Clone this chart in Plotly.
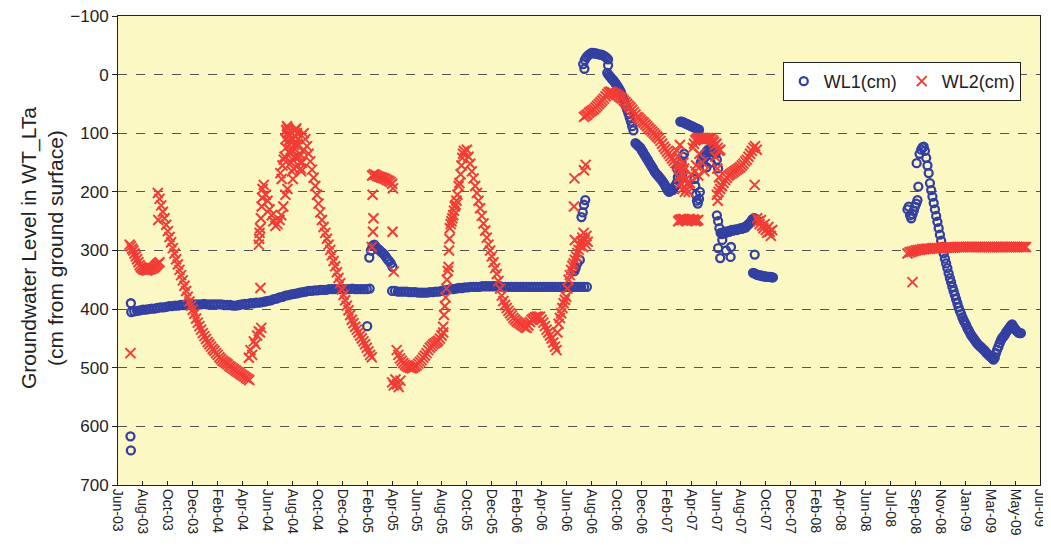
import datetime as dt
import plotly.graph_objects as go

# ---------------- DATA ----------------
# Regularly sampled stretches: (start date, step in days, values in cm)
wl1_seg_2003 = ("2003-07-30", 7, [405, 404, 403, 402, 401, 401, 400, 399, 399, 398, 397, 397, 396, 395,
                                  395, 394, 394, 393, 393, 393, 392, 392, 392, 392, 392, 391, 392,
                                  392, 392, 392, 392, 392, 393, 393, 393, 394, 394, 393, 392, 391,
                                  391, 390, 390, 389, 389, 388, 387, 386, 385, 383, 382, 380, 379,
                                  377, 376, 375, 374, 373, 372, 371, 370, 369, 369, 368, 368, 367,
                                  367, 367, 366, 366, 366, 366, 366, 366, 366, 366, 365, 366, 366,
                                  366, 366, 366, 365])
wl1_seg_2005a = ("2005-02-22", 4, [312, 300, 292, 290, 294, 297, 299, 302, 304, 307, 311, 315, 318, 322, 328])
wl1_seg_2005b = ("2005-04-18", 7, [369, 369, 370, 370, 370, 370, 371, 371, 371, 372, 372, 372, 372, 371, 371,
                                   370, 370, 369, 368, 367, 366, 366, 365, 364, 364, 363, 363, 362, 362,
                                   362, 362, 361, 361, 361, 361, 361, 361, 361, 362, 362, 362, 362,
                                   362, 362, 362, 362, 362, 362, 362, 362, 362, 362, 362, 362,
                                   362, 362, 362, 362, 362, 362, 362, 362, 362, 362, 362, 362, 362, 362])
wl1_seg_2006a = ("2006-07-22", 4, [-18, -25, -30, -33, -35, -37, -37, -36, -36, -35, -34, -34, -33, -31, -29, -26])
wl1_seg_2006b = ("2006-09-18", 3, [-3, 0, 3, 5, 8, 10, 13, 16, 19, 22, 26, 30, 36, 42, 48, 54, 60, 66, 73, 80, 88, 95])
wl1_seg_2006c = ("2006-11-25", 3, [117, 119, 121, 123, 125, 129, 132, 136, 139, 143, 146, 150, 153, 157,
                                   160, 164, 167, 170, 172, 175, 177, 180, 183, 186, 190, 194, 198, 200])
wl1_seg_2007a = ("2007-03-13", 3, [80, 80, 81, 82, 83, 84, 85, 86, 87, 88, 89, 90, 91, 92, 93, 94])
wl1_seg_2007b = ("2007-05-01", 3, [150, 145, 140, 135, 140, 130, 128, 132, 125, 130, 122, 128, 135, 145, 160])
wl1_seg_2007c = ("2007-06-09", 3, [240, 250, 262, 270, 272, 270, 268, 270, 268, 267, 268, 266, 265, 266, 265,
                                   264, 265, 264, 263, 262, 263, 262, 260, 261, 258, 256, 254, 252, 248,
                                   246, 245, 246, 248])
wl1_seg_2007d = ("2007-09-04", 3, [338, 339, 340, 341, 342, 342, 343, 343, 344, 344, 344, 345, 345, 345, 345, 346, 346])
wl1_seg_2008 = ("2008-10-13", 3, [128, 124, 123, 130, 142, 155, 168, 185, 197, 208, 219, 230, 241, 251, 262,
                                  273, 283, 294, 305, 314, 322, 330, 339, 347, 354, 362, 369, 376, 383, 390,
                                  397, 403, 408, 414, 419, 423, 427, 432, 436, 440, 444, 447, 450, 453, 456,
                                  459, 461, 463, 465, 467, 469, 471, 474, 476, 478, 480, 482, 484, 486, 483,
                                  475, 469, 464, 458, 453, 449, 447, 444, 440, 437, 434, 431, 428, 426, 430,
                                  433, 436, 438, 440, 441, 441])

# Scattered single readings
wl1_pt_dates = ["2003-07-28", "2003-07-29", "2003-07-29", "2005-02-17",
                "2006-07-01", "2006-07-04", "2006-07-08", "2006-07-14", "2006-07-18", "2006-07-21",
                "2006-07-24", "2006-07-27", "2006-07-25", "2006-09-20",
                "2007-02-17", "2007-02-20", "2007-02-23", "2007-02-26", "2007-03-01", "2007-03-04",
                "2007-03-07", "2007-03-10", "2007-03-13", "2007-03-16", "2007-03-19", "2007-03-22",
                "2007-03-05", "2007-03-12", "2007-03-18",
                "2007-04-16", "2007-04-18", "2007-04-20", "2007-04-22", "2007-04-24", "2007-04-27", "2007-04-29",
                "2007-05-15", "2007-05-25",
                "2007-06-12", "2007-06-17", "2007-06-22", "2007-07-01", "2007-07-12", "2007-07-13", "2007-09-08",
                "2008-09-10", "2008-09-13", "2008-09-16", "2008-09-19", "2008-09-22", "2008-09-25",
                "2008-09-28", "2008-10-01", "2008-10-04", "2008-10-06", "2008-10-02", "2008-10-09"]
wl1_pt_values = [617, 641, 390, 429,
                 335, 330, 322, 316, 243, 235,
                 222, 214, -10, -16,
                 198, 195, 197, 192, 190, 185,
                 175, 168, 160, 150, 140, 135,
                 160, 180, 170,
                 178, 190, 205, 215, 220, 212, 200,
                 158, 150,
                 296, 313, 282, 300, 311, 294, 307,
                 230, 225, 240, 245, 238, 232,
                 225, 220, 214, 191, 151, 135]

wl2_seg_2003a = ("2003-07-26", 3, [290, 293, 297, 300, 305, 310, 315, 320, 325, 328, 330, 332, 333, 333, 334,
                                   333, 332, 332, 330, 330, 328, 326, 324, 322, 320])
wl2_seg_2003b = ("2003-10-02", 4, [202, 212, 223, 234, 245, 256, 267, 277, 286, 296, 305, 315, 324, 333, 342,
                                   351, 360, 369, 379, 387, 394, 401, 408, 416, 423, 429, 435, 441, 446, 451,
                                   456, 460, 464, 468, 471, 475, 478, 482, 485, 488, 490, 492, 494, 497, 499,
                                   501, 503, 505, 507, 509, 511, 513, 515, 517, 519, 521])
wl2_seg_2004 = ("2004-09-17", 4, [100, 110, 122, 135, 148, 162, 176, 190, 205, 220, 235, 248, 260, 270, 280,
                                  290, 299, 308, 318, 327, 337, 347, 356, 366, 376, 385, 394, 402, 410, 418,
                                  424, 430, 435, 440, 445, 450, 455, 460, 466, 472, 478, 482])
wl2_seg_2005a = ("2005-03-01", 4, [172, 170, 171, 173, 174, 175, 176, 177, 178, 180, 181, 183, 186])
wl2_seg_2005b = ("2005-04-29", 4, [470, 478, 484, 488, 492, 495, 497, 499, 500, 501, 500, 498, 496, 493, 490,
                                   487, 483, 479, 475, 470, 466, 463, 460, 458, 456, 454, 450, 445, 440])
wl2_seg_2005c = ("2005-10-15", 4, [128, 140, 152, 165, 177, 190, 202, 215, 228, 241, 254, 266, 278, 290, 300,
                                   310, 320, 330, 340, 352, 365, 377, 386, 393, 398, 403, 407, 411, 415, 418,
                                   421, 423, 425, 427, 429, 431, 432, 428, 422, 418, 416, 414, 413, 413, 413,
                                   418, 423, 429, 435, 440, 445, 450, 457, 464, 470])
wl2_seg_2006a = ("2006-05-21", 3, [440, 425, 415, 407, 398, 390, 384, 379, 365, 350, 342, 333, 326, 322, 316,
                                   310, 304, 299, 292, 285, 278, 270])
wl2_seg_2006b = ("2006-07-24", 4, [72, 70, 68, 65, 63, 61, 59, 56, 53, 50, 47, 44, 41, 37, 33, 30, 29, 30, 32,
                                   33, 35, 37, 39, 41, 44, 47, 50, 53, 56, 60, 64, 68, 72, 74, 77, 80, 82, 85,
                                   88, 91, 94, 97, 100, 103, 106, 109, 113, 118, 123, 127, 131, 135, 139, 143,
                                   147, 151, 155, 159, 163, 168, 173, 180, 186])
wl2_seg_2007a = ("2007-03-08", 3, [250, 248, 247, 248, 246, 247, 249, 248, 247, 246, 248, 249, 247, 248, 250, 249, 248])
wl2_seg_2007b = ("2007-04-12", 3, [125, 118, 112, 110, 108, 108, 109, 108, 110, 109, 108, 110, 108, 109, 110,
                                   108, 112, 115, 120, 118, 125, 130, 128])
wl2_seg_2007c = ("2007-06-09", 4, [205, 200, 195, 190, 185, 180, 176, 172, 170, 168, 166, 164, 162, 160, 158,
                                   155, 152, 148, 145, 140, 135, 130, 125, 122, 128])
wl2_seg_2007d = ("2007-09-14", 3, [245, 250, 255, 248, 258, 262, 255, 265, 270, 260, 268, 275, 265])
wl2_seg_2008 = ("2008-09-10", 5, [305, 303, 302, 301, 300, 299, 299, 298, 298, 297, 297, 297, 296, 296, 296,
                                  296, 296, 295, 295, 295, 295, 295, 295, 295, 294, 294, 294, 294, 294, 294,
                                  294, 294, 294, 294, 294, 294, 294, 294, 294, 294, 294, 294, 294, 294, 294,
                                  294, 294, 294, 294, 294, 294, 294, 294, 294, 294, 294, 294, 294])

wl2_pt_dates = ["2003-07-28", "2003-10-03",
                "2004-05-08", "2004-05-12", "2004-05-16", "2004-05-20", "2004-05-24", "2004-05-28",
                "2004-06-01", "2004-06-04", "2004-06-07", "2004-06-05",
                "2004-06-01", "2004-06-02", "2004-06-03", "2004-06-04", "2004-06-06", "2004-06-08",
                "2004-06-09", "2004-06-10", "2004-06-13", "2004-06-18", "2004-06-22", "2004-06-27",
                "2004-07-02", "2004-07-06", "2004-07-11", "2004-07-16", "2004-07-21", "2004-07-25",
                "2004-07-30", "2004-08-04", "2004-08-09",
                "2004-07-23", "2004-07-26", "2004-07-28", "2004-07-31", "2004-08-02", "2004-08-04",
                "2004-08-06", "2004-08-08", "2004-08-10", "2004-08-12", "2004-08-14", "2004-08-16",
                "2004-08-18", "2004-08-20", "2004-08-22", "2004-08-24", "2004-08-26", "2004-08-28",
                "2004-08-30", "2004-09-01", "2004-09-03", "2004-09-05", "2004-09-07", "2004-09-09",
                "2004-09-11", "2004-09-13", "2004-09-15", "2004-08-05", "2004-08-09", "2004-08-13",
                "2004-08-17", "2004-08-21", "2004-08-25", "2004-08-29", "2004-09-02", "2004-09-06",
                "2004-09-10",
                "2005-02-28", "2005-03-02", "2005-03-03", "2005-03-04", "2005-04-19", "2005-04-20", "2005-04-22",
                "2005-04-18", "2005-04-22", "2005-04-26", "2005-04-30", "2005-05-04", "2005-05-08",
                "2005-08-19", "2005-08-21", "2005-08-23", "2005-08-25", "2005-08-27", "2005-08-28",
                "2005-08-30", "2005-09-01", "2005-09-02", "2005-09-03", "2005-09-04", "2005-09-06",
                "2005-09-08", "2005-09-10", "2005-09-12", "2005-09-14", "2005-09-16", "2005-09-18",
                "2005-09-20", "2005-09-22", "2005-09-25", "2005-09-27", "2005-09-30", "2005-10-02",
                "2005-10-04", "2005-10-06", "2005-10-08",
                "2006-06-30", "2006-07-01", "2006-07-02", "2006-07-24", "2006-07-28", "2006-07-26",
                "2006-07-29", "2006-07-22", "2006-07-30", "2006-08-02",
                "2007-03-05", "2007-03-08", "2007-03-10", "2007-03-12", "2007-03-14", "2007-03-18",
                "2007-03-20", "2007-03-22", "2007-03-24", "2007-03-28", "2007-04-02", "2007-04-05", "2007-04-08",
                "2007-04-18", "2007-04-20", "2007-04-25", "2007-04-28", "2007-05-05", "2007-05-10",
                "2007-06-05", "2007-06-10", "2007-06-14",
                "2007-06-11", "2007-06-20", "2007-09-08",
                "2008-09-22"]
wl2_pt_values = [475, 248,
                 483, 470, 478, 455, 460, 445,
                 438, 440, 432, 364,
                 290, 280, 270, 262, 245, 225,
                 210, 195, 188, 205, 215, 230,
                 240, 250, 258, 255, 248, 240,
                 225, 205, 195,
                 168, 178, 155, 145, 140, 110,
                 95, 88, 92, 105, 120, 135,
                 150, 165, 178, 160, 140, 95,
                 92, 100, 110, 120, 135, 150,
                 165, 150, 130, 125, 100, 112,
                 128, 145, 120, 105, 118, 140,
                 160,
                 294, 205, 268, 245, 268, 194, 336,
                 525, 530, 520, 528, 533, 522,
                 430, 410, 395, 380, 365, 350,
                 335, 328, 300, 280, 262, 255,
                 250, 245, 240, 232, 225, 222,
                 215, 205, 190, 185, 170, 155,
                 142, 135, 130,
                 225, 177, 282, 163, 154, 282,
                 290, 294, 275, 285,
                 130, 140, 175, 120, 185, 195,
                 150, 160, 200, 196, 200, 185, 170,
                 165, 155, 172, 135, 150, 165,
                 140, 160, 175,
                 215, 190, 188,
                 354]

x_tick_labels = ["Jun-03", "Aug-03", "Oct-03", "Dec-03", "Feb-04", "Apr-04", "Jun-04", "Aug-04",
                 "Oct-04", "Dec-04", "Feb-05", "Apr-05", "Jun-05", "Aug-05", "Oct-05", "Dec-05",
                 "Feb-06", "Apr-06", "Jun-06", "Aug-06", "Oct-06", "Dec-06", "Feb-07", "Apr-07",
                 "Jun-07", "Aug-07", "Oct-07", "Dec-07", "Feb-08", "Apr-08", "Jun-08", "Jul-08",
                 "Sep-08", "Nov-08", "Jan-09", "Mar-09", "May-09", "Jul-09"]
y_tick_values = [-100, 0, 100, 200, 300, 400, 500, 600, 700]

# ---------------- BUILD ----------------
def expand(segments, pt_dates, pt_values):
    xs, ys = [], []
    for start, step, vals in segments:
        d0 = dt.date.fromisoformat(start)
        for i, v in enumerate(vals):
            xs.append(d0 + dt.timedelta(days=step * i))
            ys.append(v)
    xs += [dt.date.fromisoformat(d) for d in pt_dates]
    ys += list(pt_values)
    return xs, ys

wl1_x, wl1_y = expand([wl1_seg_2003, wl1_seg_2005a, wl1_seg_2005b, wl1_seg_2006a, wl1_seg_2006b,
                       wl1_seg_2006c, wl1_seg_2007a, wl1_seg_2007b, wl1_seg_2007c, wl1_seg_2007d,
                       wl1_seg_2008], wl1_pt_dates, wl1_pt_values)
wl2_x, wl2_y = expand([wl2_seg_2003a, wl2_seg_2003b, wl2_seg_2004, wl2_seg_2005a, wl2_seg_2005b,
                       wl2_seg_2005c, wl2_seg_2006a, wl2_seg_2006b, wl2_seg_2007a, wl2_seg_2007b,
                       wl2_seg_2007c, wl2_seg_2007d, wl2_seg_2008], wl2_pt_dates, wl2_pt_values)

axis_start = dt.date(2003, 6, 28)
tick_vals = [axis_start + dt.timedelta(days=60 * k) for k in range(len(x_tick_labels))]

BLUE = "#3340a2"
RED = "#f23c36"
FONT = "Liberation Sans, Arial, sans-serif"

fig = go.Figure()
fig.add_trace(go.Scatter(
    x=wl1_x, y=wl1_y, mode="markers", name="WL1(cm)",
    marker=dict(symbol="circle-open", size=8, color=BLUE, line=dict(width=2.3, color=BLUE)),
))
fig.add_trace(go.Scatter(
    x=wl2_x, y=wl2_y, mode="markers", name="WL2(cm)",
    marker=dict(symbol="x-thin", size=10, color=RED, line=dict(width=2, color=RED)),
))

# the page body adds an 8 px offset, so the figure is sized and placed to compensate
fig.update_layout(
    width=1043, height=548,
    margin=dict(l=110, r=11, t=8, b=71, autoexpand=False),
    paper_bgcolor="white",
    plot_bgcolor="#fbf8c4",
    font=dict(family=FONT, color="#222"),
    showlegend=True,
    legend=dict(
        orientation="h", x=0.721, y=0.902, xanchor="left", yanchor="top",
        bgcolor="white", bordercolor="#222", borderwidth=1,
        font=dict(size=18, family=FONT, color="#222"),
        itemwidth=30,
    ),
    annotations=[dict(
        text="Groundwater Level in WT_LTa<br>(cm from ground surface)",
        xref="paper", yref="paper", x=-0.0825, y=0.505,
        xanchor="center", yanchor="middle", textangle=-90, showarrow=False,
        font=dict(size=21, family=FONT, color="#222"),
    )],
)

fig.update_xaxes(
    type="date", automargin=False,
    range=[axis_start, axis_start + dt.timedelta(days=60 * (len(x_tick_labels) - 1))],
    tickmode="array", tickvals=tick_vals, ticktext=x_tick_labels,
    tickangle=90, tickfont=dict(size=14, family=FONT, color="#222"),
    ticks="inside", ticklen=4, tickcolor="#222",
    ticklabeloverflow="allow",
    showgrid=False, zeroline=False,
    showline=True, linecolor="#222", linewidth=1, mirror=True,
)
fig.update_yaxes(
    range=[700, -100], automargin=False,
    tickmode="array", tickvals=y_tick_values,
    tickfont=dict(size=17, family=FONT, color="#222"),
    ticks="outside", ticklen=5, tickcolor="#222",
    ticklabeloverflow="allow",
    showgrid=True, gridcolor="#555", griddash="dash", gridwidth=1,
    zeroline=False,
    showline=True, linecolor="#222", linewidth=1, mirror=True,
)

fig.write_html("out.html")
